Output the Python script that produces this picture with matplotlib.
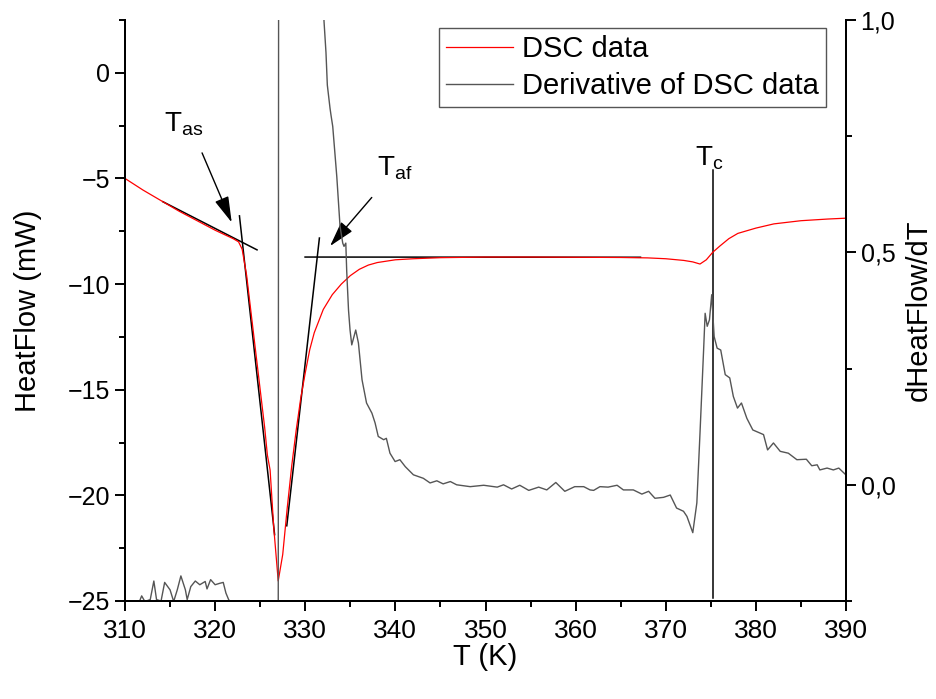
import matplotlib
matplotlib.use("Agg")
import matplotlib.pyplot as plt
from matplotlib.ticker import MultipleLocator, FuncFormatter

# ---------------- data ----------------
T_dsc = [310, 312, 314, 316, 318, 320, 321, 322, 322.6, 323.0, 323.5, 324.0, 324.5,
         325.0, 325.5, 325.8, 326.1, 326.5, 327.0, 327.5, 328.0, 328.5, 329.0, 329.5,
         330.0, 330.5, 331.0, 332.0, 333.0, 334.0, 335.0, 336.0, 337.0, 338.0, 340.0,
         342.0, 345.0, 350.0, 355.0, 360.0, 365.0, 368.0, 370.0, 372.0, 373.0, 373.8,
         374.5, 375.2, 376.0, 377.0, 378.0, 380.0, 382.0, 385.0, 388.0, 390.0]
heatflow = [-5.0, -5.55, -6.05, -6.55, -7.0, -7.45, -7.65, -7.85, -8.0, -8.35, -9.6,
            -11.4, -13.2, -15.0, -16.8, -18.1, -18.8, -21.5, -24.05, -22.8, -20.6,
            -18.6, -16.9, -15.4, -14.2, -13.1, -12.3, -11.2, -10.5, -10.0, -9.6, -9.3,
            -9.1, -8.98, -8.85, -8.8, -8.75, -8.72, -8.72, -8.73, -8.74, -8.76, -8.8,
            -8.88, -8.95, -9.05, -8.85, -8.5, -8.2, -7.85, -7.6, -7.35, -7.15, -7.0,
            -6.92, -6.88]

T_der = [311.6, 311.85, 312.2, 312.8, 313.2, 313.5, 314.0, 314.4, 315.0, 315.4, 315.8,
         316.2, 316.7, 316.9, 317.3, 317.8, 318.3, 318.9, 319.1, 319.5, 320.0, 320.5,
         320.9, 321.2, 321.5, 321.65, 322.0, 327.0, 327.05, 331.9,
         332.08, 332.3, 332.45, 332.75, 332.86, 333.05, 333.5, 333.86, 334.16, 334.3,
         334.5, 334.6, 334.8, 334.97, 335.16, 335.6, 335.9, 336.3, 336.8, 337.4, 337.75,
         338.1, 338.7, 339.0, 339.4, 339.97, 340.5, 341.1, 342.0, 343.1, 343.85, 344.6,
         345.3, 346.1, 346.8, 348.3, 349.8, 351.3, 352.0, 352.9, 353.8, 354.8, 355.9,
         356.8, 357.8, 358.8, 359.9, 360.9, 361.6, 362.0, 362.7, 363.6, 364.6, 365.3,
         366.4, 367.35, 368.1, 368.8, 369.75, 370.5, 371.2, 371.97, 372.35, 373.0,
         373.45, 373.8, 374.2, 374.37, 374.6, 374.85, 375.1, 375.37, 375.7, 376.1,
         376.6, 377.1, 377.5, 377.96, 378.4, 379.0, 379.66, 380.85, 381.3, 381.95,
         382.7, 383.6, 384.55, 385.6, 386.2, 386.8, 387.1, 387.9, 388.6, 389.2, 389.9]
dHF_dT = [-0.251, -0.239, -0.251, -0.247, -0.207, -0.247, -0.25, -0.21, -0.226, -0.251,
          -0.226, -0.196, -0.226, -0.247, -0.219, -0.207, -0.215, -0.208, -0.224, -0.204,
          -0.215, -0.212, -0.21, -0.233, -0.247, -0.251, -0.40, -0.40, 1.30, 1.30,
          0.998, 0.93, 0.86, 0.81, 0.795, 0.771, 0.663, 0.556, 0.52, 0.513,
          0.52, 0.46, 0.376, 0.333, 0.301, 0.333, 0.305, 0.226, 0.176, 0.154, 0.133,
          0.104, 0.097, 0.10, 0.068, 0.05, 0.054, 0.039, 0.0215, 0.014, 0.004, 0.0086,
          0.002, 0.007, 0.0, -0.004, -0.001, -0.005, 0.0, -0.009, -0.001, -0.012, -0.005,
          -0.011, 0.005, -0.014, -0.004, -0.004, -0.011, -0.012, -0.004, -0.005, -0.001,
          -0.011, -0.011, -0.02, -0.014, -0.029, -0.027, -0.022, -0.05, -0.057, -0.068,
          -0.103, -0.039, 0.111, 0.29, 0.369, 0.341, 0.355, 0.409, 0.319, 0.294, 0.29,
          0.237, 0.23, 0.19, 0.165, 0.176, 0.143, 0.118, 0.108, 0.075, 0.09,
          0.072, 0.068, 0.054, 0.055, 0.041, 0.043, 0.032, 0.036, 0.032, 0.036, 0.023]

# tangent construction lines (T, HeatFlow)
tangent_lines = [
    ([314.2, 324.65], [-6.1, -8.38]),
    ([322.7, 326.6], [-6.77, -21.86]),
    ([327.95, 331.57], [-21.44, -7.82]),
    ([329.98, 367.2], [-8.72, -8.73]),
    ([375.26, 375.26], [-4.6, -24.85]),
]
# arrows: (tail, head)
arrows = [((318.55, -3.79), (321.84, -7.08)),
          ((337.38, -5.9), (332.75, -8.2))]
labels = [("T", "as", 314.3, -2.75),
          ("T", "af", 338.0, -4.85),
          ("T", "c", 373.3, -4.35)]

x_ticks = [310, 320, 330, 340, 350, 360, 370, 380, 390]

# ---------------- plot ----------------
plt.rcParams['font.family'] = ['Liberation Sans', 'DejaVu Sans']
plt.rcParams['mathtext.fontset'] = 'custom'
plt.rcParams['mathtext.rm'] = 'Liberation Sans'

fig = plt.figure(figsize=(9.36, 6.99), dpi=100)
ax = fig.add_axes([125/936, 1-601/699, (846-125)/936, (601-20)/699])
ax2 = ax.twinx()

for tx, ty in tangent_lines:
    ax.plot(tx, ty, color='black', lw=1.1, zorder=3)
l1, = ax.plot(T_dsc, heatflow, color='#ff0000', lw=0.9, zorder=4)
l2, = ax2.plot(T_der, dHF_dT, color='#555555', lw=1.0)

for (tail, head) in arrows:
    ax.annotate('', xy=head, xytext=tail,
                arrowprops=dict(arrowstyle='-|>,head_length=1.0,head_width=0.28',
                                mutation_scale=16, color='black', lw=1.0,
                                shrinkA=0, shrinkB=0))
for main, sub, x, y in labels:
    ax.text(x, y, main + r'$_{\mathregular{' + sub + '}}$', fontsize=20,
            ha='left', va='baseline')

ax.set_xlim(310, 390)
ax.set_ylim(-25, 2.5)
ax2.set_ylim(-0.25, 1.0)

ax.set_xticks(x_ticks)
ax.xaxis.set_minor_locator(MultipleLocator(5))
ax.yaxis.set_major_locator(MultipleLocator(5))
ax.yaxis.set_minor_locator(MultipleLocator(2.5))
ax2.yaxis.set_major_locator(MultipleLocator(0.5))
ax2.yaxis.set_minor_locator(MultipleLocator(0.25))
ax2.yaxis.set_major_formatter(FuncFormatter(lambda v, p: f"{v:.1f}".replace('.', ',')))
ax.yaxis.set_major_formatter(FuncFormatter(lambda v, p: f"{v:g}".replace('-', '\u2212')))

for a in (ax, ax2):
    a.tick_params(which='major', direction='out', length=7, width=1.4, labelsize=18)
    a.tick_params(which='minor', direction='out', length=4.5, width=1.4)
    for s in a.spines.values():
        s.set_linewidth(1.4)
    a.spines['top'].set_visible(False)
ax.tick_params(axis='x', which='major', labelsize=19, pad=6)

ax.set_xlabel('T (K)', fontsize=21, labelpad=0)
ax.set_ylabel('HeatFlow (mW)', fontsize=21)
ax.yaxis.set_label_coords(-0.115, 0.5)
ax2.set_ylabel('dHeatFlow/dT', fontsize=21, rotation=90, va='top')
ax2.yaxis.set_label_coords(1.081, 0.5)

leg = ax2.legend([l1, l2], ['DSC data', 'Derivative of DSC data'], loc='upper left',
                 bbox_to_anchor=(439/936, 1-28/699), bbox_transform=fig.transFigure,
                 fontsize=21, frameon=True, fancybox=False, framealpha=1,
                 edgecolor='#555555', handlelength=2.3, borderpad=0.25,
                 labelspacing=0.3, handletextpad=0.3, borderaxespad=0)
leg.get_frame().set_linewidth(1.0)

fig.savefig('out.png', dpi=100)
